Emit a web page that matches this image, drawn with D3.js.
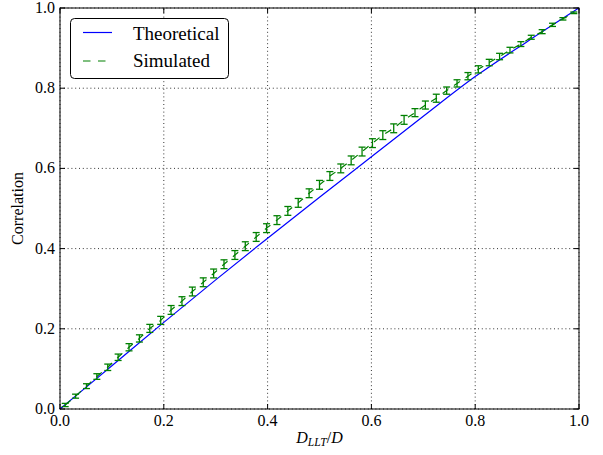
<!DOCTYPE html>
<html><head><meta charset="utf-8">
<script src="https://cdn.jsdelivr.net/npm/d3@7"></script>
<style>body{margin:0;background:#fff}svg{display:block}</style>
</head><body><div id="chart"></div>
<script>
// Theoretical curve samples
const theoX = [0,0.1,0.2,0.3,0.4,0.5,0.6,0.7,0.8,0.9,1.0];
const theoY = [0,0.108,0.216,0.322,0.426,0.528,0.629,0.730,0.829,0.916,1.0];
// Simulated points (49 points from 0.01 to 0.99)
const simX = [0.010,0.030,0.051,0.071,0.092,0.112,0.133,0.153,0.173,0.194,
  0.214,0.235,0.255,0.276,0.296,0.316,0.337,0.357,0.378,0.398,
  0.418,0.439,0.459,0.480,0.500,0.520,0.541,0.561,0.582,0.602,
  0.622,0.643,0.663,0.684,0.704,0.725,0.745,0.765,0.786,0.806,
  0.827,0.847,0.867,0.888,0.908,0.929,0.949,0.969,0.990];
const simY = [0.010,0.032,0.057,0.081,0.104,0.129,0.154,0.176,0.201,0.221,
  0.247,0.269,0.293,0.316,0.338,0.361,0.384,0.406,0.429,0.451,
  0.471,0.494,0.514,0.538,0.559,0.581,0.600,0.620,0.642,0.663,
  0.683,0.700,0.721,0.739,0.758,0.775,0.794,0.812,0.830,0.847,
  0.864,0.879,0.895,0.910,0.927,0.941,0.958,0.973,0.988];
const simErr = [0.004,0.005,0.006,0.007,0.008,0.008,0.009,0.009,0.010,0.010,
  0.011,0.011,0.011,0.011,0.011,0.011,0.011,0.011,0.011,0.011,
  0.011,0.011,0.011,0.011,0.011,0.011,0.011,0.011,0.011,0.011,
  0.011,0.011,0.011,0.010,0.010,0.010,0.009,0.009,0.009,0.009,
  0.008,0.008,0.007,0.006,0.005,0.005,0.004,0.003,0.002];
const ticks = [0,0.2,0.4,0.6,0.8,1.0];
const seriesNames = ["Theoretical","Simulated"];

const W = 603, H = 455;
const m = {l:60, r:24, t:8, b:46};
const font = "'Liberation Serif','Times New Roman',Times,serif";

const svg = d3.select("#chart").append("svg").attr("width",W).attr("height",H)
  .style("font-family",font);
const x = d3.scaleLinear().domain([0,1]).range([m.l, W-m.r]);
const y = d3.scaleLinear().domain([0,1]).range([H-m.b, m.t]);

// grid
const g = svg.append("g");
ticks.forEach(t=>{
  g.append("line").attr("x1",x(t)).attr("x2",x(t)).attr("y1",y(0)).attr("y2",y(1))
    .attr("stroke","#000").attr("stroke-width",0.8).attr("stroke-dasharray","1,2.8");
  g.append("line").attr("y1",y(t)).attr("y2",y(t)).attr("x1",x(0)).attr("x2",x(1))
    .attr("stroke","#000").attr("stroke-width",0.8).attr("stroke-dasharray","1,2.8");
});

// theoretical line
const theo = theoX.map((v,i)=>[v,theoY[i]]);
svg.append("path").datum(theo)
  .attr("d", d3.line().x(d=>x(d[0])).y(d=>y(d[1])).curve(d3.curveMonotoneX))
  .attr("fill","none").attr("stroke","#0000ff").attr("stroke-width",1.2);

// simulated dashed line
const sim = simX.map((v,i)=>({x:v,y:simY[i],e:simErr[i]}));
svg.append("path").datum(sim)
  .attr("d", d3.line().x(d=>x(d.x)).y(d=>y(d.y)))
  .attr("fill","none").attr("stroke","#008000").attr("stroke-width",1.2)
  .attr("stroke-dasharray","7,7");

// error bars
const eb = svg.append("g").attr("stroke","#008000").attr("stroke-width",1.3);
sim.forEach(d=>{
  eb.append("line").attr("x1",x(d.x)).attr("x2",x(d.x)).attr("y1",y(d.y-d.e)).attr("y2",y(d.y+d.e));
  [d.y-d.e,d.y+d.e].forEach(v=>{
    eb.append("line").attr("x1",x(d.x)-3.5).attr("x2",x(d.x)+3.5).attr("y1",y(v)).attr("y2",y(v));
  });
});

// frame
svg.append("rect").attr("x",x(0)).attr("y",y(1)).attr("width",x(1)-x(0)).attr("height",y(0)-y(1))
  .attr("fill","none").attr("stroke","#000").attr("stroke-width",1);

// ticks inward, all four sides
const tl = 5;
ticks.forEach(t=>{
  svg.append("line").attr("x1",x(t)).attr("x2",x(t)).attr("y1",y(0)).attr("y2",y(0)-tl).attr("stroke","#000");
  svg.append("line").attr("x1",x(t)).attr("x2",x(t)).attr("y1",y(1)).attr("y2",y(1)+tl).attr("stroke","#000");
  svg.append("line").attr("y1",y(t)).attr("y2",y(t)).attr("x1",x(0)).attr("x2",x(0)+tl).attr("stroke","#000");
  svg.append("line").attr("y1",y(t)).attr("y2",y(t)).attr("x1",x(1)).attr("x2",x(1)-tl).attr("stroke","#000");
  svg.append("text").attr("x",x(t)).attr("y",y(0)+17).attr("text-anchor","middle")
    .attr("font-size",16).text(t.toFixed(1));
  svg.append("text").attr("x",x(0)-5).attr("y",y(t)+5).attr("text-anchor","end")
    .attr("font-size",16).text(t.toFixed(1));
});

// axis labels
svg.append("text").attr("transform",`translate(23,${(y(0)+y(1))/2}) rotate(-90)`)
  .attr("text-anchor","middle").attr("font-size",16).text("Correlation");
const xl = svg.append("text").attr("x",(x(0)+x(1))/2).attr("y",443).attr("text-anchor","middle")
  .attr("font-size",16);
xl.append("tspan").attr("font-style","italic").text("D");
xl.append("tspan").attr("font-style","italic").attr("font-size",11.5).attr("dy",3).text("LLT");
xl.append("tspan").attr("dy",-3).text("/");
xl.append("tspan").attr("font-style","italic").text("D");

// legend
const lg = svg.append("g");
lg.append("rect").attr("x",70.5).attr("y",18.5).attr("width",158).attr("height",60).attr("rx",4)
  .attr("fill","#fff").attr("stroke","#000").attr("stroke-width",1);
lg.append("line").attr("x1",83).attr("x2",112).attr("y1",32.5).attr("y2",32.5)
  .attr("stroke","#0000ff").attr("stroke-width",1.2);
lg.append("line").attr("x1",83).attr("x2",112).attr("y1",61).attr("y2",61)
  .attr("stroke","#008000").attr("stroke-width",1.2).attr("stroke-dasharray","7.5,7.5");
lg.append("text").attr("x",133).attr("y",39.5).attr("font-size",19).text(seriesNames[0]);
lg.append("text").attr("x",133).attr("y",67).attr("font-size",19).text(seriesNames[1]);
</script></body></html>
